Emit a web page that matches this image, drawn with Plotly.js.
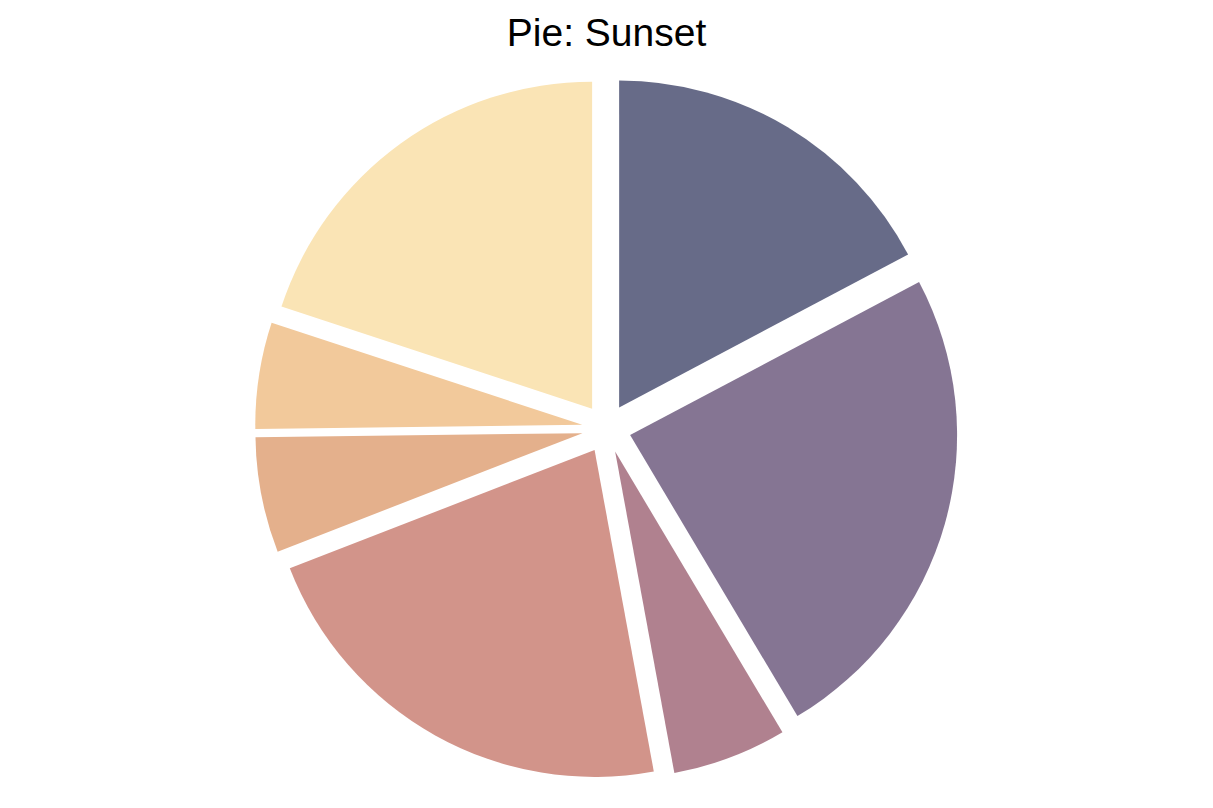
<!DOCTYPE html>
<html>
<head>
<meta charset="utf-8">
<script src="https://cdn.plot.ly/plotly-3.0.1.min.js"></script>
<style>html,body{margin:0;padding:0;background:#fff;}#chart{width:1213px;height:808px;}</style>
</head>
<body>
<div id="chart"></div>
<script>
const labels = ["A", "B", "C", "D", "E", "F", "G"];
const values = [17.25, 24.2, 5.65, 22.0, 5.7, 5.25, 19.95];
const colors = ["#676b88", "#857593", "#b0818f", "#d2948a", "#e4b08c", "#f2c99b", "#fae4b5"];
const pulls = [0.075, 0.075, 0.075, 0.075, 0.075, 0.075, 0.075];

const data = [{
  type: "pie",
  labels: labels,
  values: values,
  sort: false,
  direction: "clockwise",
  rotation: 0,
  pull: pulls,
  marker: {colors: colors, line: {width: 0}},
  textinfo: "none",
  hoverinfo: "label+value+percent",
  showlegend: false
}];

const layout = {
  width: 1213,
  height: 808,
  title: {text: "Pie: Sunset", font: {family: "Liberation Sans, Arial, sans-serif", size: 39, color: "#000"}, x: 0.5, xanchor: "center", y: 0.96, yref: "container", yanchor: "middle"},
  margin: {l: 20, r: 20, t: 77, b: 28},
  paper_bgcolor: "#fff",
  showlegend: false
};

Plotly.newPlot("chart", data, layout, {displayModeBar: false});
</script>
</body>
</html>
